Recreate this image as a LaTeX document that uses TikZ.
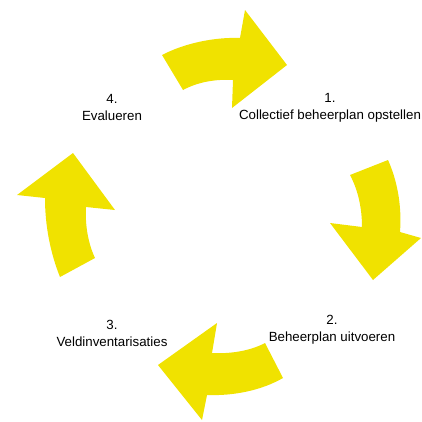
\documentclass[tikz,border=0pt]{standalone}
\usepackage{fontspec}
\setmainfont{Liberation Sans}
\definecolor{cycleyellow}{RGB}{240,226,0}
\begin{document}
\begin{tikzpicture}[x=1pt,y=-1pt,
  cyclearrow/.style={fill=cycleyellow,draw=none},
  phase/.style={align=center,inner sep=0pt,font=\fontsize{13.3}{17}\selectfont}]
\useasboundingbox (0,0) rectangle (422,421);
\fill[cyclearrow] (162,55) .. controls (185,43) and (215,37) .. (240,38) -- (245,10) -- (287,65) -- (232,108) -- (233,80) .. controls (215,79) and (198,82) .. (183,90) -- cycle;
\fill[cyclearrow] (350,175) .. controls (358,190) and (362,208) .. (362,227) -- (330,223) -- (373,280) -- (421,238) -- (400,232) .. controls (402,205) and (397,180) .. (388,160) -- cycle;
\fill[cyclearrow] (265,343) .. controls (250,351) and (230,354) .. (212,353) -- (217,323) -- (158,365) -- (202,420) -- (207,395) .. controls (235,396) and (262,390) .. (283,378) -- cycle;
\fill[cyclearrow] (60,277) .. controls (50,252) and (45,225) .. (45,198) -- (17,195) -- (73,153) -- (115,210) -- (86,207) .. controls (85,225) and (88,243) .. (95,258) -- cycle;
\node[phase] (collectief) at (330,107.5) {1.\\Collectief beheerplan opstellen};
\node[phase] (uitvoeren) at (332,329.5) {2.\\Beheerplan uitvoeren};
\node[phase] (veld) at (112,333.5) {3.\\Veldinventarisaties};
\node[phase] (evalueren) at (112,107.5) {4.\\Evalueren};
\end{tikzpicture}
\end{document}
